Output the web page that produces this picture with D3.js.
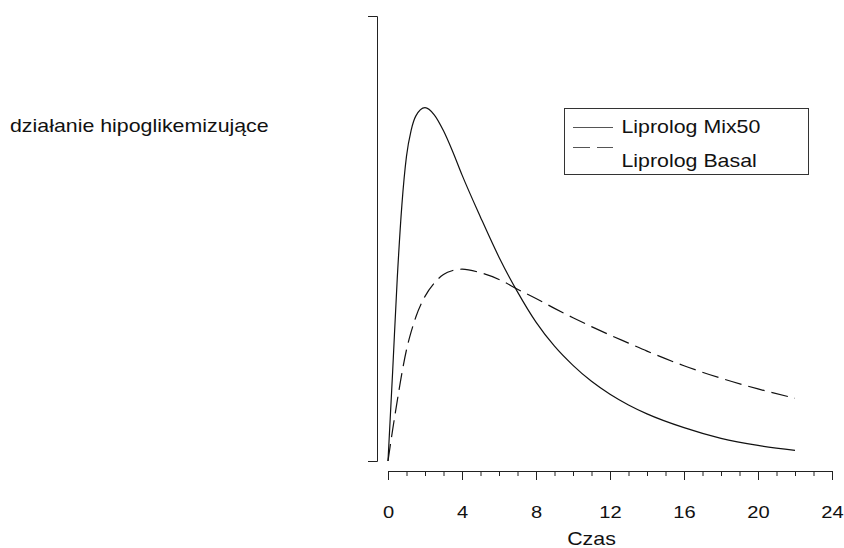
<!DOCTYPE html>
<html>
<head>
<meta charset="utf-8">
<script src="https://cdn.jsdelivr.net/npm/d3@7"></script>
<style>
  body { margin: 0; background: #fff; }
  text { font-family: "Liberation Sans", Arial, sans-serif; fill: #111; }
</style>
</head>
<body>
<div id="content"></div>
<script>
// values
var times  = [0, 0.25, 0.5, 0.75, 1, 1.25, 1.5, 2, 2.5, 3, 3.5, 4, 5, 6, 7, 8, 9, 10, 11, 12, 13, 14, 16, 18, 20, 22];
var mix50  = [0, 20, 41, 57.5, 68.5, 74.3, 77.5, 79.4, 77.8, 74.2, 69.5, 64.3, 54.8, 45.8, 38, 31.2, 25.8, 21.5, 17.9, 15, 12.6, 10.6, 7.5, 5.1, 3.5, 2.4];
var basal  = [0, 7, 13.5, 19.7, 25, 29, 32.3, 37, 40, 41.9, 42.8, 43.1, 42.3, 40.8, 38.6, 36.5, 34.3, 32.2, 30.2, 28.3, 26.5, 24.7, 21.4, 18.6, 16.2, 14.1];
var seriesNames = ["Liprolog Mix50", "Liprolog Basal"];
var xTicksMajor = [0, 4, 8, 12, 16, 20, 24];
var xTicksMinor = d3.range(0, 25, 1);
var xLabel = "Czas";
var yLabel = "działanie hipoglikemizujące";

var W = 844, H = 548;
var stretch = 1.22; // glyphs in the picture are wider than tall

var svg = d3.select("#content")
            .append("svg")
            .attr("width", W)
            .attr("height", H);

var scaleX = d3.scaleLinear().domain([0, 24]).range([388, 832]);
var scaleY = d3.scaleLinear().domain([0, 100]).range([461, 16]);

// y axis: only the bracket, no labels
var axisY = d3.axisLeft(scaleY).tickValues([]).tickSizeOuter(9);
svg.append("g")
   .attr("transform", "translate(377,0)")
   .call(axisY);

// x axis, minor ticks then major ticks with labels
var axisXMinor = d3.axisBottom(scaleX).tickValues(xTicksMinor).tickSize(5).tickSizeOuter(0).tickFormat("");
var axisXMajor = d3.axisBottom(scaleX).tickValues(xTicksMajor).tickSize(9).tickSizeOuter(0).tickPadding(26);

svg.append("g")
   .attr("transform", "translate(0,471)")
   .call(axisXMinor);
var axisXG = svg.append("g")
   .attr("transform", "translate(0,471)")
   .call(axisXMajor);
axisXG.selectAll("text")
   .attr("font-size", 16.5)
   .attr("font-family", "Liberation Sans, Arial, sans-serif")
   .attr("fill", "#111")
   .attr("transform", "scale(" + stretch + ",1)");
svg.selectAll(".tick line, .domain").attr("stroke", "#222");

function label(x, y, txt, size, anchor) {
  return svg.append("text")
    .attr("transform", "translate(" + x + "," + y + ") scale(" + stretch + ",1)")
    .attr("text-anchor", anchor || "start")
    .attr("font-size", size)
    .text(txt);
}

label(scaleX(11), 544.5, xLabel, 17.5, "middle");
label(10, 131.5, yLabel, 17.5);

// curves
var rowsMix = times.map(function(t, i) { return {t: t, v: mix50[i]}; });
var rowsBasal = times.map(function(t, i) { return {t: t, v: basal[i]}; });

var line = d3.line()
  .x(function(d) { return scaleX(d.t); })
  .y(function(d) { return scaleY(d.v); })
  .curve(d3.curveMonotoneX);

svg.append("path")
   .datum(rowsMix)
   .attr("d", line)
   .attr("fill", "none")
   .attr("stroke", "#111")
   .attr("stroke-width", 1.2);

svg.append("path")
   .datum(rowsBasal)
   .attr("d", line)
   .attr("fill", "none")
   .attr("stroke", "#111")
   .attr("stroke-width", 1.2)
   .attr("stroke-dasharray", "17,7");

// legend
var leg = svg.append("g");
leg.append("rect")
   .attr("x", 564.5).attr("y", 108.5)
   .attr("width", 244).attr("height", 66)
   .attr("fill", "#fff")
   .attr("stroke", "#333");
leg.append("line")
   .attr("x1", 573).attr("x2", 613).attr("y1", 127.5).attr("y2", 127.5)
   .attr("stroke", "#555").attr("stroke-width", 1.2);
leg.append("line")
   .attr("x1", 573).attr("x2", 613).attr("y1", 147.5).attr("y2", 147.5)
   .attr("stroke", "#555").attr("stroke-width", 1.2)
   .attr("stroke-dasharray", "17,7");
label(621.5, 132.5, seriesNames[0], 17.5);
label(621.5, 166.5, seriesNames[1], 17.5);
</script>
</body>
</html>
